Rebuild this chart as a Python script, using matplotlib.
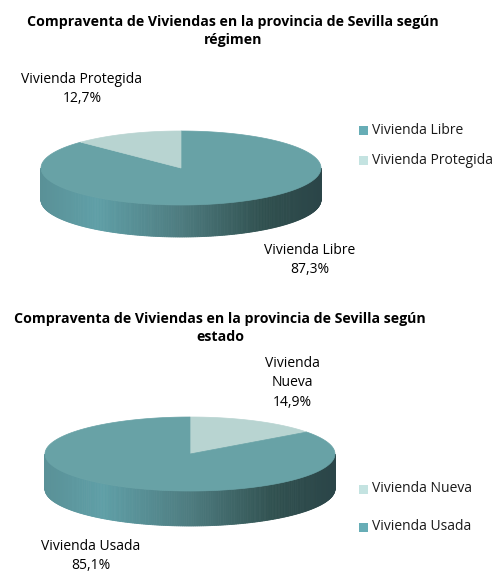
import numpy as np
import matplotlib
matplotlib.use("Agg")
import matplotlib.pyplot as plt
from matplotlib.patches import Polygon, Rectangle
from matplotlib.colors import LinearSegmentedColormap

# data
titulo_regimen = "Compraventa de Viviendas en la provincia de Sevilla según\nrégimen"
cats_regimen = ["Vivienda Libre", "Vivienda Protegida"]
vals_regimen = [87.3, 12.7]

titulo_estado = "Compraventa de Viviendas en la provincia de Sevilla según\nestado"
cats_estado = ["Vivienda Nueva", "Vivienda Usada"]
vals_estado = [14.9, 85.1]

DARK = "#68a2a6"
LIGHT = "#b8d4d1"
LEG_DARK = "#67adb6"
LEG_LIGHT = "#c4e3e1"

side_ramp = LinearSegmentedColormap.from_list(
    "side", [(0.0, "#5a9197"), (0.2, "#5f9fa7"), (0.5, "#4e7c80"),
             (0.8, "#30504f"), (1.0, "#2b4548")])

W, H = 502, 585
fig = plt.figure(figsize=(W / 100, H / 100), dpi=100)
ax = fig.add_axes([0, 0, 1, 1])
ax.set_xlim(0, W)
ax.set_ylim(H, 0)
ax.axis("off")

FONT = "Open Sans"
LBL = 10.0


def pie3d(vals, colors, cx, cy, a, b, depth):
    frac = np.array(vals) / sum(vals)
    edges = np.concatenate([[0], np.cumsum(frac)]) * 360  # clockwise from 12h

    def slice_of(phi_deg):
        cw = (90 - phi_deg) % 360
        return int(np.searchsorted(edges, cw, side="right") - 1) % len(vals)

    # side wall (front half)
    n = 240
    phis = np.linspace(180, 360, n + 1)
    for p1, p2 in zip(phis[:-1], phis[1:]):
        r1, r2 = np.radians(p1), np.radians(p2)
        x1, y1 = cx + a * np.cos(r1), cy - b * np.sin(r1)
        x2, y2 = cx + a * np.cos(r2), cy - b * np.sin(r2)
        t = ((x1 + x2) / 2 - (cx - a)) / (2 * a)
        k = slice_of((p1 + p2) / 2)
        col = side_ramp(t) if colors[k] == DARK else "#8fa9a6"
        ax.add_patch(Polygon([(x1, y1), (x2, y2), (x2, y2 + depth), (x1, y1 + depth)],
                             closed=True, fc=col, ec=col, lw=0.6))

    # top faces
    for i in range(len(vals)):
        start = 90 - edges[i]
        end = 90 - edges[i + 1]
        th = np.radians(np.linspace(start, end, 200))
        pts = [(cx, cy)] + list(zip(cx + a * np.cos(th), cy - b * np.sin(th)))
        ax.add_patch(Polygon(pts, closed=True, fc=colors[i], ec=colors[i], lw=0.5))


def legend(cats, colors, x, ys):
    for c, col, y in zip(cats, colors, ys):
        ax.add_patch(Rectangle((x, y - 4.5), 9, 9, fc=col, ec="none"))
        ax.text(x + 13, y, c, fontsize=LBL, family=FONT, va="center", ha="left", color="#1a1a1a")


def pct(v):
    return f"{v:.1f}%".replace(".", ",")


# chart 1: regimen
ax.text(233, 31, titulo_regimen, fontsize=10.2, family=FONT, weight="bold",
        ha="center", va="center", linespacing=1.45)
pie3d(vals_regimen, [DARK, LIGHT], 181, 168, 140, 37, 32)
ax.text(82, 89, f"{cats_regimen[1]}\n{pct(vals_regimen[1])}",
        fontsize=LBL, family=FONT, ha="center", va="center", linespacing=1.4)
ax.text(310, 260, f"{cats_regimen[0]}\n{pct(vals_regimen[0])}",
        fontsize=LBL, family=FONT, ha="center", va="center", linespacing=1.4)
legend(cats_regimen, [LEG_DARK, LEG_LIGHT], 359, [130, 160])

# chart 2: estado
ax.text(220, 328, titulo_estado, fontsize=10.2, family=FONT, weight="bold",
        ha="center", va="center", linespacing=1.45)
pie3d(vals_estado, [LIGHT, DARK], 190, 454, 145, 37, 35)
ax.text(292, 383, "Vivienda\nNueva\n" + pct(vals_estado[0]),
        fontsize=LBL, family=FONT, ha="center", va="center", linespacing=1.4)
ax.text(91, 556, f"{cats_estado[1]}\n{pct(vals_estado[1])}",
        fontsize=LBL, family=FONT, ha="center", va="center", linespacing=1.4)
legend(cats_estado, [LEG_LIGHT, LEG_DARK], 359, [489, 527])

fig.savefig("out.png", dpi=100)
